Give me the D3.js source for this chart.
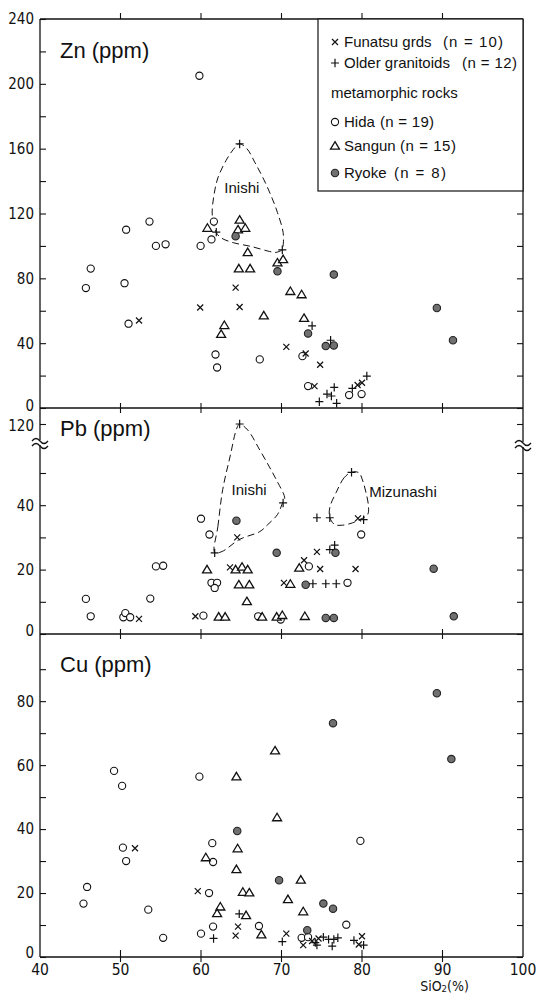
<!DOCTYPE html>
<html><head><meta charset="utf-8">
<script src="https://cdn.jsdelivr.net/npm/d3@7"></script>
<style>body{margin:0;background:#fff}svg{display:block}</style>
</head><body>
<script>
// ---------- DATA ----------
const xTicks = [40,50,60,70,80,90,100];
const znTickLabels = [0,40,80,120,160,200,240];
const znMinorTicks = [20,60,100,140,180,220];
const pbTickLabels = [0,20,40,120];
const pbMinorTicks = [10,30,50];
const cuTickLabels = [0,20,40,60,80];
const cuMinorTicks = [10,30,50,70,90];

const legendNames = ["Funatsu grds","Older granitoids","metamorphic rocks","Hida","Sangun","Ryoke"];
const legendCounts = ["(n=10)","(n=12)","","(n=19)","(n=15)","(n=8)"];

// Zn (ppm) vs SiO2
const znFunatsu = [[52.3,54],[59.9,62],[64.3,74.3],[64.8,62.3],[70.6,37.7],[73.0,33.6],[74.8,26.7],[74.1,13.5],[79.45,14.2],[80.0,15.6]];
const znOlder = [[61.9,108.5],[64.8,162.9],[70.1,97.6],[73.8,50.7],[76.1,41.8],[74.7,3.9],[75.65,8.6],[76.2,7.4],[76.55,12.7],[76.85,2.9],[78.8,12.1],[80.6,19.7]];
const znHida = [[59.8,205],[45.7,74],[46.3,86],[50.7,110],[50.5,77],[51.0,52],[53.6,115],[54.4,100],[55.6,101],[59.95,100],[61.6,115],[61.3,104],[61.8,33],[62.0,25],[67.3,30],[72.6,32],[73.3,13.5],[78.4,8],[79.95,8.6]];
const znSangun = [[60.8,111],[62.9,51],[62.5,45.5],[64.8,116],[64.6,110],[65.5,111],[65.8,96],[64.7,86],[66.1,86],[67.8,57],[69.5,89.6],[70.2,91.7],[71.1,72],[72.5,70],[72.8,55.4]];
const znRyoke = [[64.3,106],[69.5,84.3],[76.5,82.3],[73.3,46],[75.5,38.2],[76.5,38.6],[89.3,61.7],[91.3,41.8]];
const znInishi = [[61.9,108.3],[61.4,118.8],[61.6,131],[62.1,142],[63.1,152.6],[64.0,159.4],[64.75,163],[65.7,160],[66.7,151.4],[67.7,142],[68.7,131],[69.5,120.6],[70.2,108.3],[70.2,100],[70.1,97.8],[69.3,96],[68.5,96.6],[66.2,99.7],[64.0,102],[62.5,105]];

// Pb (ppm)
const pbFunatsu = [[52.3,4.7],[59.3,5.5],[63.6,20.7],[64.5,30],[70.3,15.9],[72.8,22.9],[74.8,20.2],[74.4,25.5],[79.2,20.2],[79.5,35.9]];
const pbOlder = [[61.7,25.2],[64.8,120],[70.2,40.7],[73.9,15.6],[75.5,15.6],[76.8,15.6],[76.0,26.2],[76.6,27.6],[74.4,36.1],[76.0,36.1],[80.2,35.5],[78.7,51]];
const pbHida = [[45.7,10.9],[46.3,5.5],[50.35,5.2],[50.6,6.5],[51.2,5.2],[53.7,11],[54.4,21],[55.3,21.2],[60.0,35.8],[61.05,30.9],[61.3,15.9],[62.0,15.9],[61.7,14.3],[60.3,5.7],[67.1,5.5],[73.4,21],[78.2,15.9],[79.9,30.9],[69.9,4.5]];
const pbSangun = [[60.75,20],[64.3,20],[65.1,20.8],[65.8,20],[64.7,15.3],[66.0,15.3],[65.7,10.1],[62.2,5.3],[63.0,5.3],[67.6,5.3],[69.4,5.3],[70.1,5.8],[72.9,5.5],[71.1,15.5],[72.2,20.5]];
const pbRyoke = [[64.4,35.2],[69.4,25.2],[73.0,15.3],[75.5,5],[76.5,5],[76.7,25.2],[88.9,20.3],[91.4,5.5]];
const pbInishi = [[61.7,25.3],[62.1,33.4],[62.7,44.9],[63.6,72.9],[64.45,114],[64.8,120],[65.8,111.4],[67.3,82.9],[68.5,58.6],[69.4,47.7],[70.4,42.1],[70.1,40.5],[69.5,37.1],[68.3,34],[67.3,31.8],[64.8,29.4],[62.6,25.6]];
const pbMizunashi = [[78.7,51],[77.8,48.6],[76.8,44],[76.0,39.3],[76.0,36.2],[76.6,34],[77.6,33.8],[78.8,34.5],[79.7,35.5],[80.7,37.1],[80.8,39.7],[80.5,43.9],[80.1,47.5],[79.6,50.5]];

// Cu (ppm)
const cuFunatsu = [[51.8,34],[59.6,20.6],[64.6,9.5],[64.3,6.7],[70.6,7.3],[72.7,3.7],[73.8,5.0],[74.6,5.8],[80.0,6.5],[79.6,3.9]];
const cuOlder = [[61.56,5.8],[64.75,13.5],[70.1,4.8],[74.2,4.5],[74.4,3.7],[75.2,6.2],[75.85,5.5],[76.5,5.5],[76.3,3.4],[79.0,5.2],[80.2,3.7],[77.0,6.0]];
const cuHida = [[49.2,58.2],[50.2,53.5],[59.8,56.4],[50.3,34.2],[50.7,30],[45.85,21.9],[45.4,16.7],[53.45,14.8],[55.3,6],[60.0,7.3],[61.4,35.6],[61.5,29.7],[61.0,20],[61.5,9.5],[67.2,9.7],[79.8,36.3],[78.05,10.1],[72.5,6],[73.3,6.2]];
const cuSangun = [[64.4,56.4],[69.2,64.5],[69.45,43.6],[64.55,33.9],[64.4,27.4],[60.6,31.1],[62.4,15.7],[62.0,13.6],[65.6,13],[65.2,20.3],[66.0,20.1],[67.5,7],[72.4,24.1],[70.8,18],[72.7,14.2]];
const cuRyoke = [[76.4,73.1],[89.3,82.5],[91.1,61.9],[64.5,39.4],[69.7,24],[75.2,16.7],[76.4,15.1],[73.2,8.4]];

// ---------- LAYOUT ----------
const W = 536, H = 995;
const L = 40, R = 523;
const NARROW = "'Liberation Sans Narrow','DejaVu Sans Condensed','Liberation Sans',sans-serif";
const SANS = "'Liberation Sans',Arial,sans-serif";

const svg = d3.select("body").append("svg").attr("width", W).attr("height", H);
const x = d3.scaleLinear().domain([40,100]).range([L,R]);
const yZn = d3.scaleLinear().domain([0,240]).range([408,19]);
const yPb = d3.scaleLinear().domain([0,50,120,125]).range([634,473,424,408]);
const yCu = d3.scaleLinear().domain([0,101]).range([957,634]);

// frame
const frame = svg.append("g").attr("stroke","#111").attr("stroke-width",1.3).attr("fill","none");
frame.append("line").attr("x1",L).attr("x2",L).attr("y1",19).attr("y2",957);
frame.append("line").attr("x1",R).attr("x2",R).attr("y1",19).attr("y2",957);
[19,408,634,957].forEach(yy => frame.append("line").attr("x1",L).attr("x2",R).attr("y1",yy).attr("y2",yy));

// y axes
function yAxisDraw(scale, labels, minors, nudge) {
  const all = labels.concat(minors);
  svg.append("g").call(d3.axisRight(scale).tickValues(all).tickSize(6).tickFormat(""))
    .attr("transform",`translate(${L},0)`).call(g=>g.select(".domain").remove())
    .call(g=>g.selectAll("line").attr("stroke","#111").attr("stroke-width",1.1));
  svg.append("g").call(d3.axisLeft(scale).tickValues(all).tickSize(6).tickFormat(""))
    .attr("transform",`translate(${R},0)`).call(g=>g.select(".domain").remove())
    .call(g=>g.selectAll("line").attr("stroke","#111").attr("stroke-width",1.1));
  svg.append("g").selectAll("text").data(labels).join("text")
    .attr("x", 34).attr("y", d=>scale(d) + (nudge[d]||0)).attr("dy","0.36em")
    .attr("text-anchor","end").attr("font-family",NARROW).attr("font-size",15).attr("fill","#111")
    .text(d=>d);
}
yAxisDraw(yZn, znTickLabels, znMinorTicks, {0:-2});
yAxisDraw(yPb, pbTickLabels, pbMinorTicks, {0:-3, 120:2});
yAxisDraw(yCu, cuTickLabels, cuMinorTicks, {0:-4});

// x ticks
const inner = xTicks.slice(1,-1);
const xt = svg.append("g").attr("stroke","#111").attr("stroke-width",1.1);
inner.forEach(v=>{
  xt.append("line").attr("x1",x(v)).attr("x2",x(v)).attr("y1",13).attr("y2",19);
  [408,634].forEach(yy=>xt.append("line").attr("x1",x(v)).attr("x2",x(v)).attr("y1",yy-5).attr("y2",yy+5));
  xt.append("line").attr("x1",x(v)).attr("x2",x(v)).attr("y1",950).attr("y2",962);
});
svg.append("g").selectAll("text").data(xTicks).join("text")
  .attr("x",d=>x(d)).attr("y",975).attr("text-anchor","middle")
  .attr("font-family",NARROW).attr("font-size",15.5).attr("fill","#111").text(d=>d);
const xl = svg.append("text").attr("x",x(90)+2).attr("y",991).attr("text-anchor","middle")
  .attr("font-family",NARROW).attr("font-size",14).attr("fill","#111");
xl.append("tspan").text("SiO");
xl.append("tspan").attr("font-size",9.5).attr("dy",1.2).text("2");
xl.append("tspan").attr("dy",-1.2).text("(%)");

// breaks on Pb axis
function brk(cx, cy) {
  const g = svg.append("g").attr("transform",`translate(${cx},${cy})`);
  g.append("rect").attr("x",-3).attr("y",-2).attr("width",6).attr("height",5).attr("fill","#fff");
  g.append("path").attr("d","M-8,-1 q4,-5 8,0 t8,0 M-8,4 q4,-5 8,0 t8,0")
    .attr("fill","none").attr("stroke","#111").attr("stroke-width",1.3);
}
brk(L, 442); brk(R, 444);

// panel titles
[["Zn",58],["Pb",436],["Cu",672]].forEach(([t,yy])=>{
  svg.append("text").attr("x",60).attr("y",yy).attr("font-family",SANS).attr("font-size",22)
    .attr("fill","#111").text(t+" (ppm)");
});

// markers
function marker(g, type) {
  if (type==="x") g.append("path").attr("d","M-3,-3L3,3M-3,3L3,-3").attr("stroke","#111").attr("stroke-width",1.2).attr("fill","none");
  else if (type==="+") g.append("path").attr("d","M-4,0H4M0,-4.2V4.2").attr("stroke","#111").attr("stroke-width",1.2).attr("fill","none");
  else if (type==="o") g.append("circle").attr("r",3.6).attr("fill","#fff").attr("stroke","#111").attr("stroke-width",1.1);
  else if (type==="t") g.append("path").attr("d","M0,-4.3L4.5,3.2L-4.5,3.2Z").attr("fill","#fff").attr("stroke","#111").attr("stroke-width",1.3);
  else if (type==="f") g.append("circle").attr("r",3.7).attr("fill","#707070").attr("stroke","#222").attr("stroke-width",1.1);
}
function plot(data, type, ys) {
  const g = svg.append("g");
  g.selectAll("g").data(data).join("g")
    .attr("transform",d=>`translate(${x(d[0])},${ys(d[1])})`)
    .each(function(){ marker(d3.select(this), type); });
}
function curve(data, ys) {
  svg.append("path").datum(data)
    .attr("d", d3.line().x(d=>x(d[0])).y(d=>ys(d[1])).curve(d3.curveCatmullRomClosed.alpha(0.5)))
    .attr("fill","none").attr("stroke","#111").attr("stroke-width",1).attr("stroke-dasharray","7,4");
}
curve(znInishi, yZn);
curve(pbInishi, yPb);
curve(pbMizunashi, yPb);

[[znHida,znSangun,znRyoke,znFunatsu,znOlder,yZn],
 [pbHida,pbSangun,pbRyoke,pbFunatsu,pbOlder,yPb],
 [cuHida,cuSangun,cuRyoke,cuFunatsu,cuOlder,yCu]].forEach(([h,s,r,f,o,ys])=>{
  plot(h,"o",ys); plot(s,"t",ys); plot(r,"f",ys); plot(f,"x",ys); plot(o,"+",ys);
});

// annotations
function ann(t, xv, yv, ys) {
  svg.append("text").attr("x",x(xv)).attr("y",ys(yv)).attr("font-family",SANS).attr("font-size",15)
    .attr("fill","#111").text(t);
}
ann("Inishi", 62.9, 132.7, yZn);
ann("Inishi", 63.8, 43.2, yPb);
ann("Mizunashi", 80.9, 42.5, yPb);

// legend
const lg = svg.append("g");
lg.append("rect").attr("x",318).attr("y",19).attr("width",R-318).attr("height",172)
  .attr("fill","#fff").attr("stroke","#111").attr("stroke-width",1.2);
const rowsY = [47,68,98,127,151,178];
const symTypes = ["x","+",null,"o","t","f"];
const countX = [443,462,0,380,400,394];
const countW = [60,55,0,54,56,52];
legendNames.forEach((nm,i)=>{
  const hasSym = symTypes[i]!==null;
  if (hasSym) marker(lg.append("g").attr("transform",`translate(335,${rowsY[i]-5})`), symTypes[i]);
  lg.append("text").attr("x", hasSym?344:331).attr("y",rowsY[i]).attr("font-family",SANS)
    .attr("font-size",15).attr("fill","#111").text(nm);
  if (legendCounts[i]) lg.append("text").attr("x",countX[i]).attr("y",rowsY[i]).attr("font-family",SANS)
    .attr("font-size",15).attr("fill","#111").attr("textLength",countW[i]).attr("lengthAdjust","spacing")
    .text(legendCounts[i].replace("=", " = "));
});
</script>
</body></html>
